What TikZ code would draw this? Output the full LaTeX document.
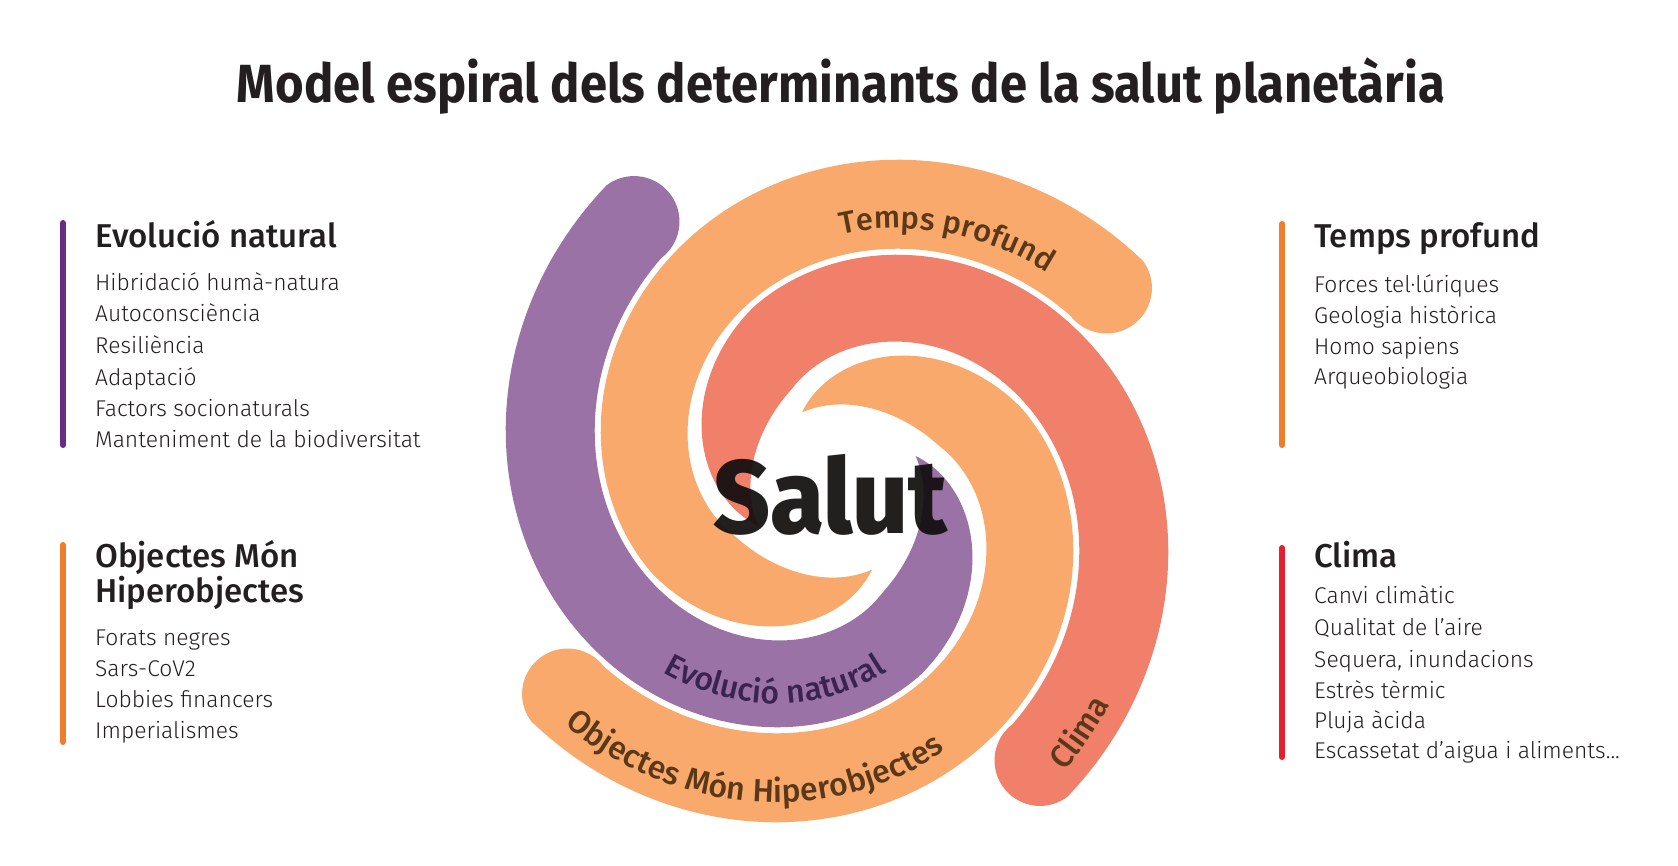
\documentclass[tikz,border=0pt]{standalone}
\usepackage{fontspec}
\usepackage{graphicx}
\setmainfont{Fira Sans}
\newfontfamily\lightf{Fira Sans Light}
\newfontfamily\medf{Fira Sans Medium}
\newfontfamily\heavyf{Fira Sans ExtraBold}
\usetikzlibrary{decorations.text}

\definecolor{cPurple}{HTML}{9B72A6}
\definecolor{cOrange}{HTML}{F8A96B}
\definecolor{cRed}{HTML}{F0806A}
\definecolor{barPurple}{HTML}{6A2C82}
\definecolor{barOrange}{HTML}{EE7D2C}
\definecolor{barRed}{HTML}{E3202C}
\definecolor{ink}{HTML}{231F20}
\definecolor{deepink}{HTML}{120E0F}
\definecolor{brownText}{HTML}{5A3818}
\definecolor{purpleText}{HTML}{3A2350}

\newcommand\spiralarm[2]{%
  \fill[#2] plot[domain=127:384,samples=160,variable=\p]
      ({837+Ro(\p)*cos(\p+#1)},{491-Ro(\p)*sin(\p+#1)})
    -- plot[domain=384:127,samples=160,variable=\p]
      ({837+Ri(\p)*cos(\p+#1)},{491-Ri(\p)*sin(\p+#1)})
    -- plot[domain=180:360,samples=40,variable=\t]
      ({837+337.34*cos(127+#1)+45.5*cos(127+#1+\t)},{491-337.34*sin(127+#1)-45.5*sin(127+#1+\t)})
    -- cycle;}

\begin{document}
\begin{tikzpicture}[x=1pt,y=-1pt,
  declare function={
    Ro(\p)=ifthenelse(\p<=294, 520-1.08*\p, 202.48-(\p-294)*1.2942);
    Ri(\p)=ifthenelse(\p<=294, 429-1.08*\p, 86+25.48*(1-(\p-294)/90)^3);
  },
  head/.style={anchor=base west, font=\medf\fontsize{33}{36}\selectfont, text=ink, inner sep=0pt},
  item/.style={anchor=base west, font=\lightf\fontsize{22.8}{26}\selectfont, text=ink, inner sep=0pt},
  sidebar/.style={line width=6pt, line cap=round},
]
\fill[white] (0,0) rectangle (1678,865);
\useasboundingbox (0,0) rectangle (1678,865);

% title
\node[anchor=base, font=\bfseries\fontsize{53.7}{60}\selectfont, text=ink, inner sep=0pt] (title) at (841,102)
  {\resizebox{1208pt}{\height}{Model espiral dels determinants de la salut planetària}};

% spiral arms
\spiralarm{0}{cPurple}
\spiralarm{-90}{cOrange}
\spiralarm{90}{cOrange}
\spiralarm{180}{cRed}

% arm labels
\path[decorate, decoration={text along path, text align=center,
   text={|\medf\fontsize{31}{31}\selectfont\color{brownText}|Temps profund}}]
  plot[domain=104:34,samples=80,variable=\a] ({837+(Ro(\a+90)-70)*cos(\a)},{491-(Ro(\a+90)-70)*sin(\a)});
\path[decorate, decoration={text along path, text align=center,
   text={|\medf\fontsize{32}{32}\selectfont\color{purpleText}|Evolució natural}}]
  plot[domain=217:298,samples=80,variable=\a] ({837+(Ro(\a)-24.5)*cos(\a)},{491-(Ro(\a)-24.5)*sin(\a)});
\path[decorate, decoration={text along path, text align=center,
   text={|\medf\fontsize{32}{32}\selectfont\color{brownText}|Objectes Món Hiperobjectes}}]
  plot[domain=215:300,samples=80,variable=\a] ({837+(Ro(\a-90)-20)*cos(\a)},{491-(Ro(\a-90)-20)*sin(\a)});
\path[decorate, decoration={text along path, text align=center,
   text={|\medf\fontsize{32}{32}\selectfont\color{brownText}|Clima}}]
  plot[domain=296:336,samples=40,variable=\a] ({837+(Ro(\a-180)-20)*cos(\a)},{491-(Ro(\a-180)-20)*sin(\a)});

% centre
\node[anchor=base, font=\heavyf\fontsize{104}{104}\selectfont, text=deepink, text opacity=0.93, inner sep=0pt] (salut) at (830,533)
  {\resizebox{234pt}{\height}{Salut}};

% left top block
\draw[sidebar, barPurple] (63,223) -- (63,445);
\node[head] (h1) at (95,247) {Evolució natural};
\node[item] (l1a) at (95,290) {Hibridació humà-natura};
\node[item] (l1b) at (95,321.5) {Autoconsciència};
\node[item] (l1c) at (95,353) {Resiliència};
\node[item] (l1d) at (95,385) {Adaptació};
\node[item] (l1e) at (95,416.5) {Factors socionaturals};
\node[item] (l1f) at (95,447) {Manteniment de la biodiversitat};

% left bottom block
\draw[sidebar, barOrange] (63,545) -- (63,742);
\node[head] (h2a) at (95,567) {Objectes Món};
\node[head] (h2b) at (95,602) {Hiperobjectes};
\node[item] (l2a) at (95,645) {Forats negres};
\node[item] (l2b) at (95,676) {Sars-CoV2};
\node[item] (l2c) at (95,707) {Lobbies financers};
\node[item] (l2d) at (95,738) {Imperialismes};

% right top block
\draw[sidebar, barOrange] (1282,224) -- (1282,445);
\node[head] (h3) at (1314,247) {Temps profund};
\node[item] (r1a) at (1314,292) {Forces tel·lúriques};
\node[item] (r1b) at (1314,323) {Geologia històrica};
\node[item] (r1c) at (1314,354) {Homo sapiens};
\node[item] (r1d) at (1314,384) {Arqueobiologia};

% right bottom block
\draw[sidebar, barRed] (1282,548) -- (1282,757);
\node[head] (h4) at (1314,567) {Clima};
\node[item] (r2a) at (1314,603) {Canvi climàtic};
\node[item] (r2b) at (1314,635) {Qualitat de l’aire};
\node[item] (r2c) at (1314,667) {Sequera, inundacions};
\node[item] (r2d) at (1314,698) {Estrès tèrmic};
\node[item] (r2e) at (1314,728) {Pluja àcida};
\node[item] (r2f) at (1314,758) {Escassetat d’aigua i aliments...};
\end{tikzpicture}
\end{document}
